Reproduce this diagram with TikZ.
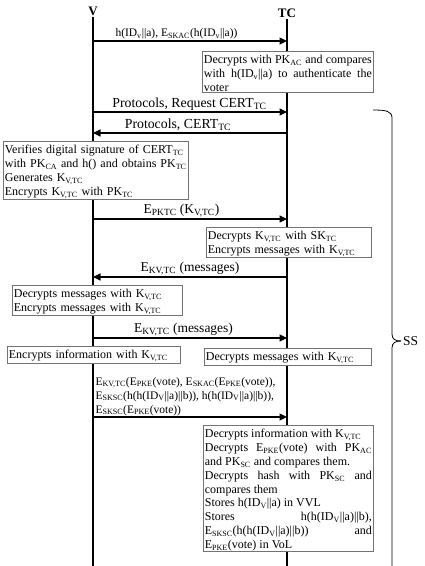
\documentclass[tikz,border=0pt]{standalone}
\usepackage{fontspec}
\setmainfont{Liberation Serif}
\usetikzlibrary{arrows.meta, positioning}
\newcommand{\sbs}[1]{\textsubscript{#1}}
\newcommand{\topstrut}{\rule{0pt}{11.5pt}}

\begin{document}
\begin{tikzpicture}[x=1pt, y=-1pt,
    font=\fontsize{12}{13.8}\selectfont,
    actor/.style={font=\fontsize{13}{14}\selectfont\bfseries, inner sep=1pt},
    life/.style={line width=1.8pt},
    msg/.style={-{Triangle[length=7.5pt, width=7pt]}, line width=1.1pt},
    note/.style={rectangle, draw=black!55, fill=white, line width=0.7pt, inner xsep=1.5pt, inner ysep=1pt, align=left, anchor=north west},
    jnote/.style={note, align=justify},
    lbl/.style={above, inner sep=1.5pt, font=\fontsize{13.5}{14}\selectfont}
]
\useasboundingbox (0,0) rectangle (425,566);

% lifelines
\node[actor] (V) at (93,11) {V};
\node[actor] (TC) at (287,13) {TC};
\coordinate (Vend) at (93,566);
\coordinate (TCend) at (287,566);
\draw[life] (V.south) -- (Vend);
\draw[life] (TC.south) -- (TCend);

% points on the lifelines
\coordinate (v1) at (92,41);  \coordinate (t1) at (287,41);
\coordinate (v2) at (92,112); \coordinate (t2) at (287,112);
\coordinate (v3) at (93,133); \coordinate (t3) at (287,133);
\coordinate (v4) at (92,219); \coordinate (t4) at (287,219);
\coordinate (v5) at (93,277); \coordinate (t5) at (287,277);
\coordinate (v6) at (92,338); \coordinate (t6) at (287,338);
\coordinate (v7) at (92,417); \coordinate (t7) at (287,417);

% messages
\draw[msg] (v1) -- node[lbl, xshift=-13pt, font=\fontsize{11.5}{14}\selectfont] {h(ID\sbs{v}||a), E\sbs{SKAC}(h(ID\sbs{v}||a))} (t1);
\draw[msg] (v2) -- node[lbl, font=\fontsize{13.8}{14}\selectfont] {Protocols, Request CERT\sbs{TC}} (t2);
\draw[msg] (t3) -- node[lbl, xshift=-12pt, font=\fontsize{13.8}{14}\selectfont] {Protocols, CERT\sbs{TC}} (v3);
\draw[msg] (v4) -- node[lbl, xshift=-8pt] {E\sbs{PKTC} (K\sbs{V,TC})} (t4);
\draw[msg] (t5) -- node[lbl] {E\sbs{KV,TC} (messages)} (v5);
\draw[msg] (v6) -- node[lbl, xshift=-6pt] {E\sbs{KV,TC} (messages)} (t6);
\draw[msg] (v7) -- node[pos=0, anchor=south west, inner sep=1pt, xshift=2pt, align=left, font=\fontsize{11.5}{14}\selectfont]
  {E\sbs{KV,TC}(E\sbs{PKE}(vote), E\sbs{SKAC}(E\sbs{PKE}(vote)),\\
   E\sbs{SKSC}(h(h(ID\sbs{V}||a)||b)), h(h(ID\sbs{V}||a)||b)),\\
   E\sbs{SKSC}(E\sbs{PKE}(vote))} (t7);

% processing boxes
\node[jnote, text width=168pt] (auth) at (202,51)
  {\topstrut Decrypts with PK\sbs{AC} and compares with h(ID\sbs{v}||a) to authenticate the voter};
\node[note, text width=182pt] (verify) at (3,141)
  {\topstrut Verifies digital signature of CERT\sbs{TC}\\
   with PK\sbs{CA} and h() and obtains PK\sbs{TC}\\
   Generates K\sbs{V,TC}\\
   Encrypts K\sbs{V,TC} with PK\sbs{TC}};
\node[note, text width=162pt] (keytc) at (206,227)
  {\topstrut Decrypts K\sbs{V,TC} with SK\sbs{TC}\\
   Encrypts messages with K\sbs{V,TC}};
\node[note, text width=167pt] (msgv) at (12,285)
  {\topstrut Decrypts messages with K\sbs{V,TC}\\
   Encrypts messages with K\sbs{V,TC}};
\node[note, text width=170pt] (infov) at (7,346)
  {\topstrut Encrypts information with K\sbs{V,TC}};
\node[note, text width=164pt] (msgtc) at (204,348)
  {\topstrut Decrypts messages with K\sbs{V,TC}};
\node[jnote, text width=167pt] (store) at (203,425)
  {\topstrut Decrypts information with K\sbs{V,TC}\\
   Decrypts E\sbs{PKE}(vote) with PK\sbs{AC} and PK\sbs{SC} and compares them.\\
   Decrypts hash with PK\sbs{SC} and compares them\\
   Stores h(ID\sbs{V}||a) in VVL\\
   Stores h(h(ID\sbs{V}||a)||b), E\sbs{SKSC}(h(h(ID\sbs{V}||a)||b)) and E\sbs{PKE}(vote) in VoL};

% session brace
\draw[line width=0.8pt] (373,110) .. controls (386,110) and (392,111) .. (392,118) -- (392,334)
  .. controls (392,339) and (395,341) .. (401,341);
\draw[line width=0.8pt] (401,341) .. controls (395,341) and (392,343) .. (392,348) -- (392,566);
\node[anchor=west, inner sep=1pt, font=\fontsize{13.5}{14}\selectfont] (ss) at (402,341) {SS};
\end{tikzpicture}
\end{document}
